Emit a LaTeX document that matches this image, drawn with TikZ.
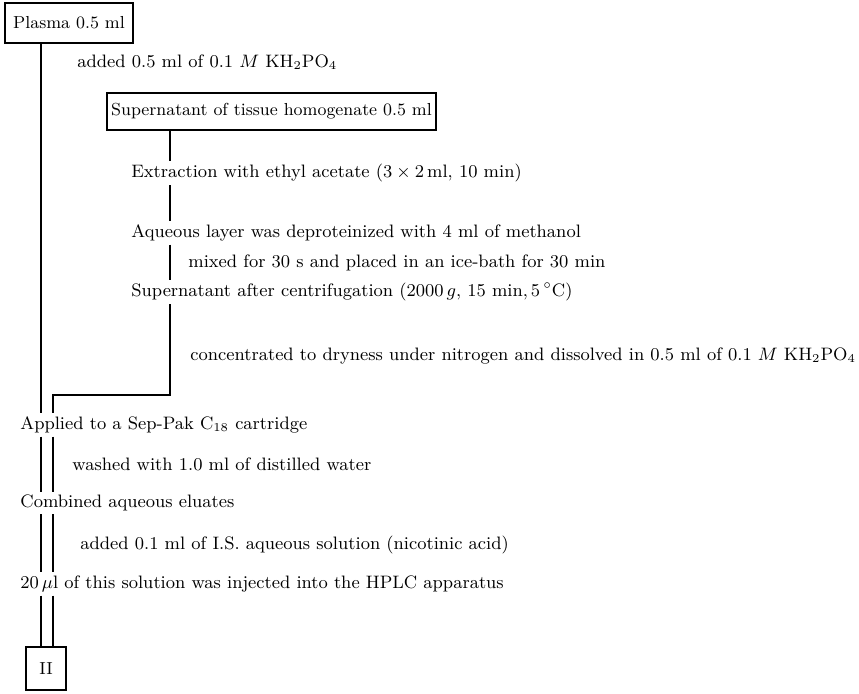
\documentclass[tikz,border=0pt]{standalone}
\usetikzlibrary{positioning}
\begin{document}
\begin{tikzpicture}[x=0.5pt,y=-0.5pt,
                sample/.style={
                    draw,
                    line width=0.9pt,
                    rectangle,
                    inner xsep=2pt,
                    inner ysep=0pt,
                    font=\fontsize{8.7}{10.5}\selectfont
                },
                stage/.style={
                    anchor=west,
                    inner xsep=0pt,
                    inner ysep=1.5pt,
                    font=\fontsize{9}{11}\selectfont
                },
                flow/.style={
                    line width=0.9pt
                }
            ]
                \useasboundingbox (0,0) rectangle (859,694);

                % rails of the flow chart
                \coordinate (railP) at (41,0);
                \coordinate (railT) at (53,0);
                \coordinate (railS) at (170,0);
                \coordinate (merge) at (53,395);

                \node[sample, minimum width=64pt, minimum height=20pt] (plasma) at (69,23) {Plasma 0.5 ml};
                \node[stage] (addbuf) at (77,62) {added 0.5 ml of 0.1 $M$ KH$_2$PO$_4$};
                \node[sample, minimum width=154.5pt, minimum height=18.5pt] (tissue) at (271.5,111.5) {Supernatant of tissue homogenate 0.5 ml};
                \node[stage] (extract) at (131,173) {Extraction with ethyl acetate ($3\times2$\,ml, 10 min)};
                \node[stage] (aqueous) at (131,233) {Aqueous layer was deproteinized with 4 ml of methanol};
                \node[stage] (mixed) at (188,263) {mixed for 30 s and placed in an ice-bath for 30 min};
                \node[stage] (centri) at (131,292) {Supernatant after centrifugation (2000\,$g$, 15 min,\,5\,$^\circ$C)};
                \node[stage] (conc) at (190,356) {concentrated to dryness under nitrogen and dissolved in 0.5 ml of 0.1 $M$ KH$_2$PO$_4$};
                \node[stage] (applied) at (20,425) {Applied to a Sep-Pak C$_{18}$ cartridge};
                \node[stage] (washed) at (72,464) {washed with 1.0 ml of distilled water};
                \node[stage] (eluates) at (20,503) {Combined aqueous eluates};
                \node[stage] (addis) at (80,545) {added 0.1 ml of I.S. aqueous solution (nicotinic acid)};
                \node[stage] (inject) at (20,584) {20\,$\mu$l of this solution was injected into the HPLC apparatus};
                \node[sample, minimum width=20pt, minimum height=21.5pt] (final) at (46,668.5) {II};

                % plasma branch
                \draw[flow] (plasma.south -| railP) -- (applied.north -| railP);

                % tissue branch
                \draw[flow] (tissue.south -| railS) -- (extract.north -| railS);
                \draw[flow] (extract.south -| railS) -- (aqueous.north -| railS);
                \draw[flow] (aqueous.south -| railS) -- (centri.north -| railS);
                \draw[flow] (centri.south -| railS) |- (merge) -- (applied.north -| railT);

                % both branches together
                \foreach \a/\b in {applied/eluates, eluates/inject, inject/final}
                    \foreach \r in {railP, railT}
                        \draw[flow] (\a.south -| \r) -- (\b.north -| \r);
        \end{tikzpicture}
\end{document}
